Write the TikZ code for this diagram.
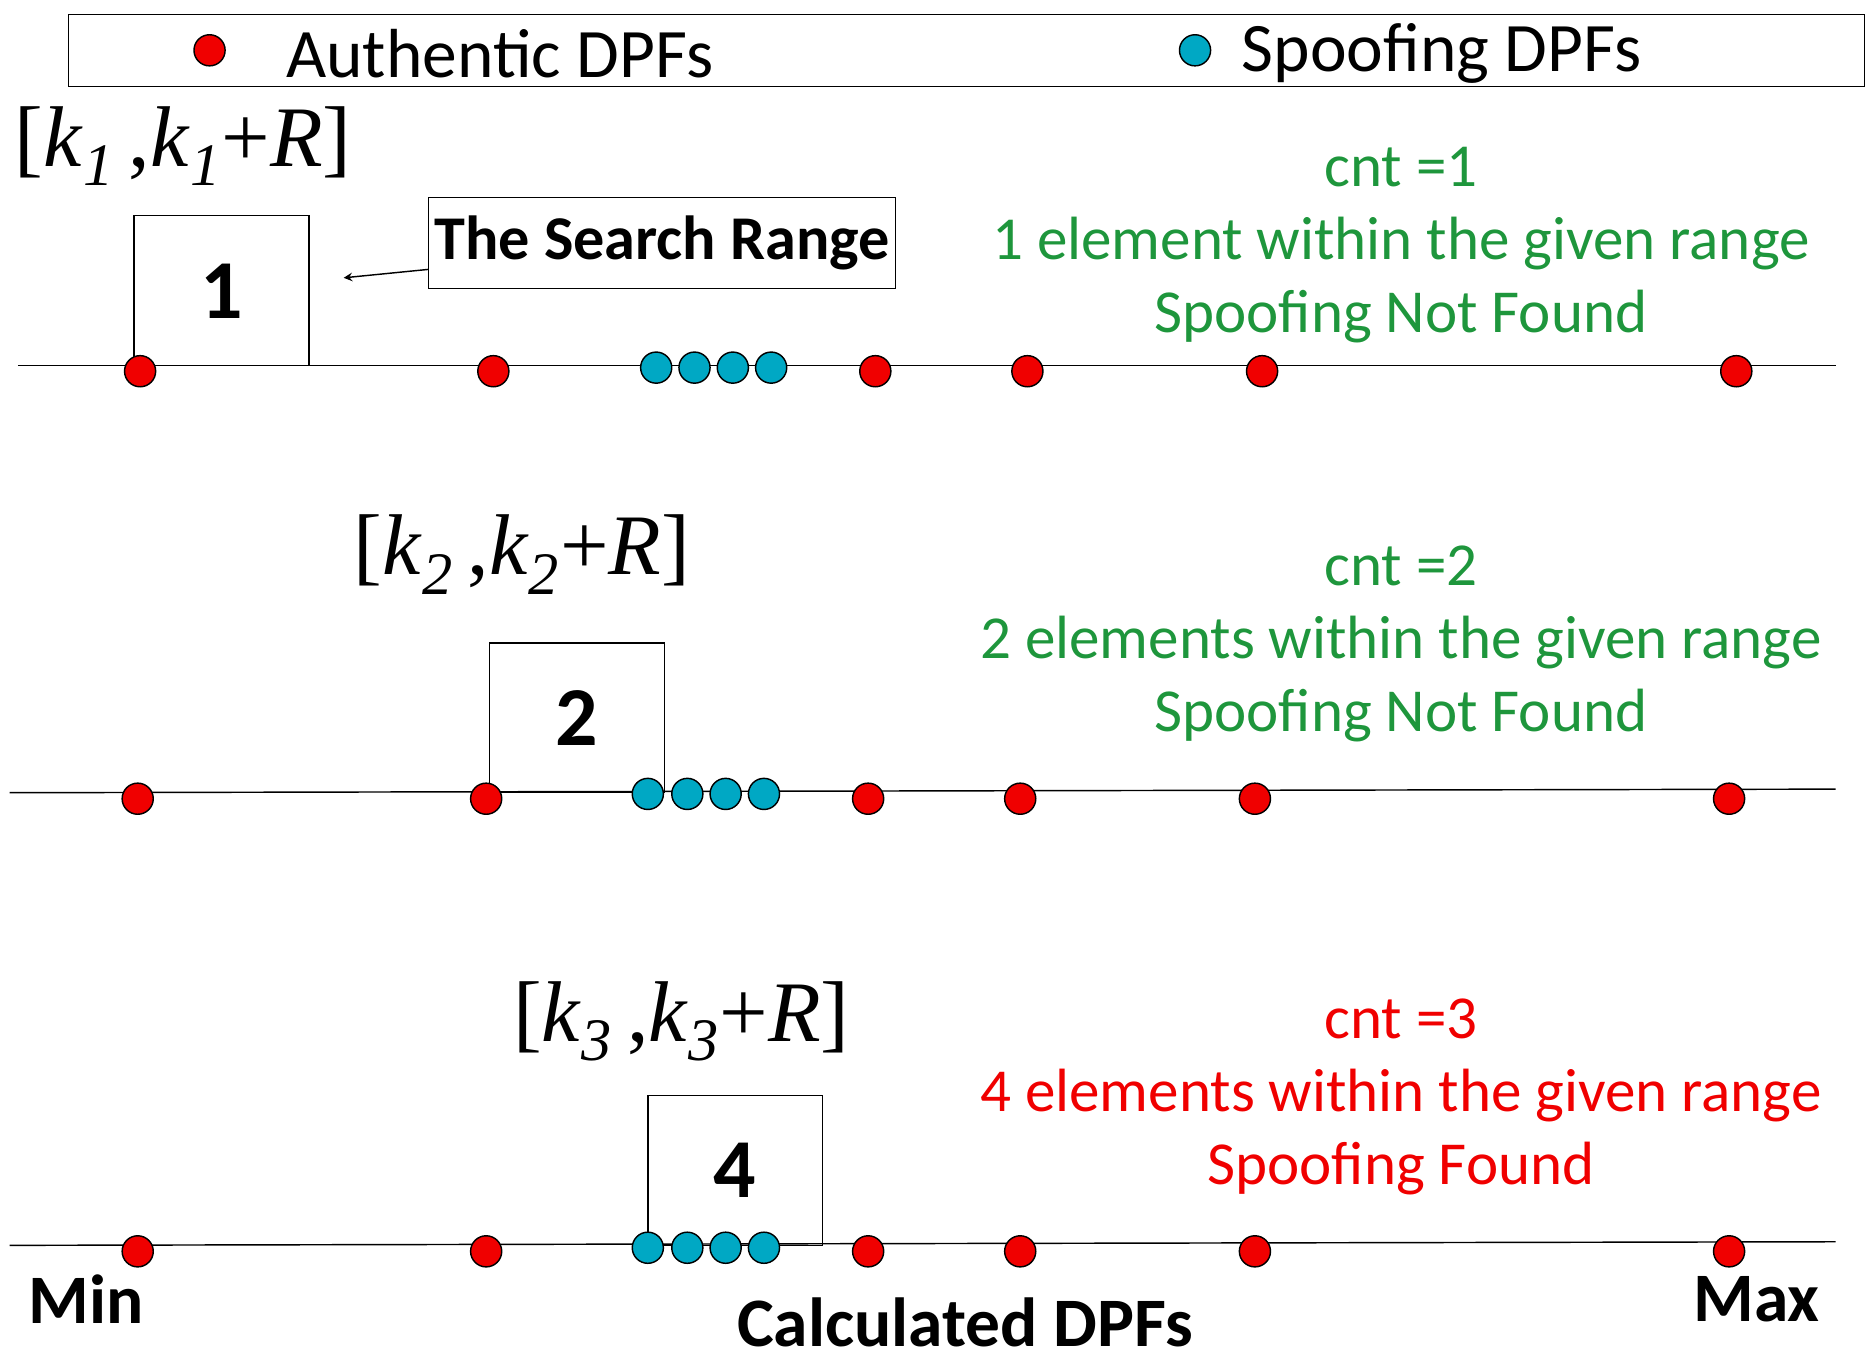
\documentclass[tikz,border=0pt]{standalone}
\usepackage{fontspec}
\setmainfont{Carlito}
\newfontfamily\tms{Liberation Serif}
\definecolor{dred}{RGB}{240,0,0}
\definecolor{dblue}{RGB}{0,168,196}
\definecolor{dgreen}{RGB}{30,150,60}
\begin{document}
\begin{tikzpicture}[x=0.5pt,y=-0.5pt,
 red/.style={circle,draw=black,fill=dred,inner sep=0pt,minimum size=13pt,line width=0.6pt},
 blue/.style={circle,draw=black,fill=dblue,inner sep=0pt,minimum size=13pt,line width=0.6pt},
 ax/.style={line width=0.6pt},
 sbox/.style={draw,line width=0.6pt},
 num/.style={font=\fontsize{35}{35}\selectfont\bfseries},
 mth/.style={font=\fontsize{36}{36}\selectfont\tms},
 info/.style={font=\fontsize{25.5}{25.5}\selectfont,align=center},
 big/.style={font=\fontsize{29}{29}\selectfont\bfseries}]
\useasboundingbox (0,0) rectangle (1560,1137);
% legend
\node[draw,line width=0.6pt,minimum width=750pt,minimum height=30pt] (leg) at (807,42) {};
\node[red] (lr) at (175,42) {};
\node[anchor=west,font=\fontsize{29}{29}\selectfont] (lt1) at (232,45) {Authentic DPFs};
\node[blue] (lb) at (998,42) {};
\node[anchor=west,font=\fontsize{29}{29}\selectfont] (lt2) at (1030,45) {Spoofing DPFs};
% row 1
\coordinate (a1) at (15,305); \coordinate (b1) at (1533,305);
\draw[ax] (a1) -- (b1);
\draw[sbox] (112,180) rectangle (258,305);
\node[num] (n1) at (185,243) {1};
\foreach \x [count=\i] in {117,412,731,858,1054,1450} \node[red] (r1\i) at (\x,310) {};
\foreach \x [count=\i] in {548,580,612,644} \node[blue] (s1\i) at (\x,307) {};
\node[draw,line width=0.6pt,minimum width=195pt,minimum height=38pt,inner xsep=2pt,font=\fontsize{26}{26}\selectfont\bfseries] (sr) at (553,203) {The Search Range};
\coordinate (sa) at (287,232);
\draw[-stealth,line width=0.6pt] (sr.west|-0,225) -- (sa);
\node[mth] (m1) at (153,122) {[\textit{k}\textsubscript{\textit{1}}\,,\textit{k}\textsubscript{\textit{1}}+\textit{R}]};
\node[info,text=dgreen] (t1) at (1170,205) {cnt =1\\[5pt]1 element within the given range\\[5pt]Spoofing Not Found};
% row 2
\coordinate (a2) at (8,662); \coordinate (b2) at (1533,659);
\draw[ax] (a2) -- (b2);
\draw[sbox] (409,537) rectangle (555,662);
\node[num] (n2) at (482,600) {2};
\foreach \x [count=\i] in {115,406,725,852,1048,1444} \node[red] (r2\i) at (\x,667) {};
\foreach \x [count=\i] in {541,574,606,638} \node[blue] (s2\i) at (\x,663) {};
\node[mth] (m2) at (436,463) {[\textit{k}\textsubscript{\textit{2}}\,,\textit{k}\textsubscript{\textit{2}}+\textit{R}]};
\node[info,text=dgreen] (t2) at (1170,538) {cnt =2\\[5pt]2 elements within the given range\\[5pt]Spoofing Not Found};
% row 3
\coordinate (a3) at (8,1040); \coordinate (b3) at (1533,1037);
\draw[ax] (a3) -- (b3);
\draw[sbox] (541,915) rectangle (687,1040);
\node[num] (n3) at (614,977) {4};
\foreach \x [count=\i] in {115,406,725,852,1048,1444} \node[red] (r3\i) at (\x,1045) {};
\foreach \x [count=\i] in {541,574,606,638} \node[blue] (s3\i) at (\x,1042) {};
\node[mth] (m3) at (569,853) {[\textit{k}\textsubscript{\textit{3}}\,,\textit{k}\textsubscript{\textit{3}}+\textit{R}]};
\node[info,text=dred] (t3) at (1170,916) {cnt =3\\[5pt]4 elements within the given range\\[5pt]Spoofing Found};
% labels
\node[big] (mn) at (72,1085) {Min};
\node[big] (mx) at (1467,1085) {Max};
\node[big] (cd) at (806,1104) {Calculated DPFs};
\end{tikzpicture}
\end{document}
